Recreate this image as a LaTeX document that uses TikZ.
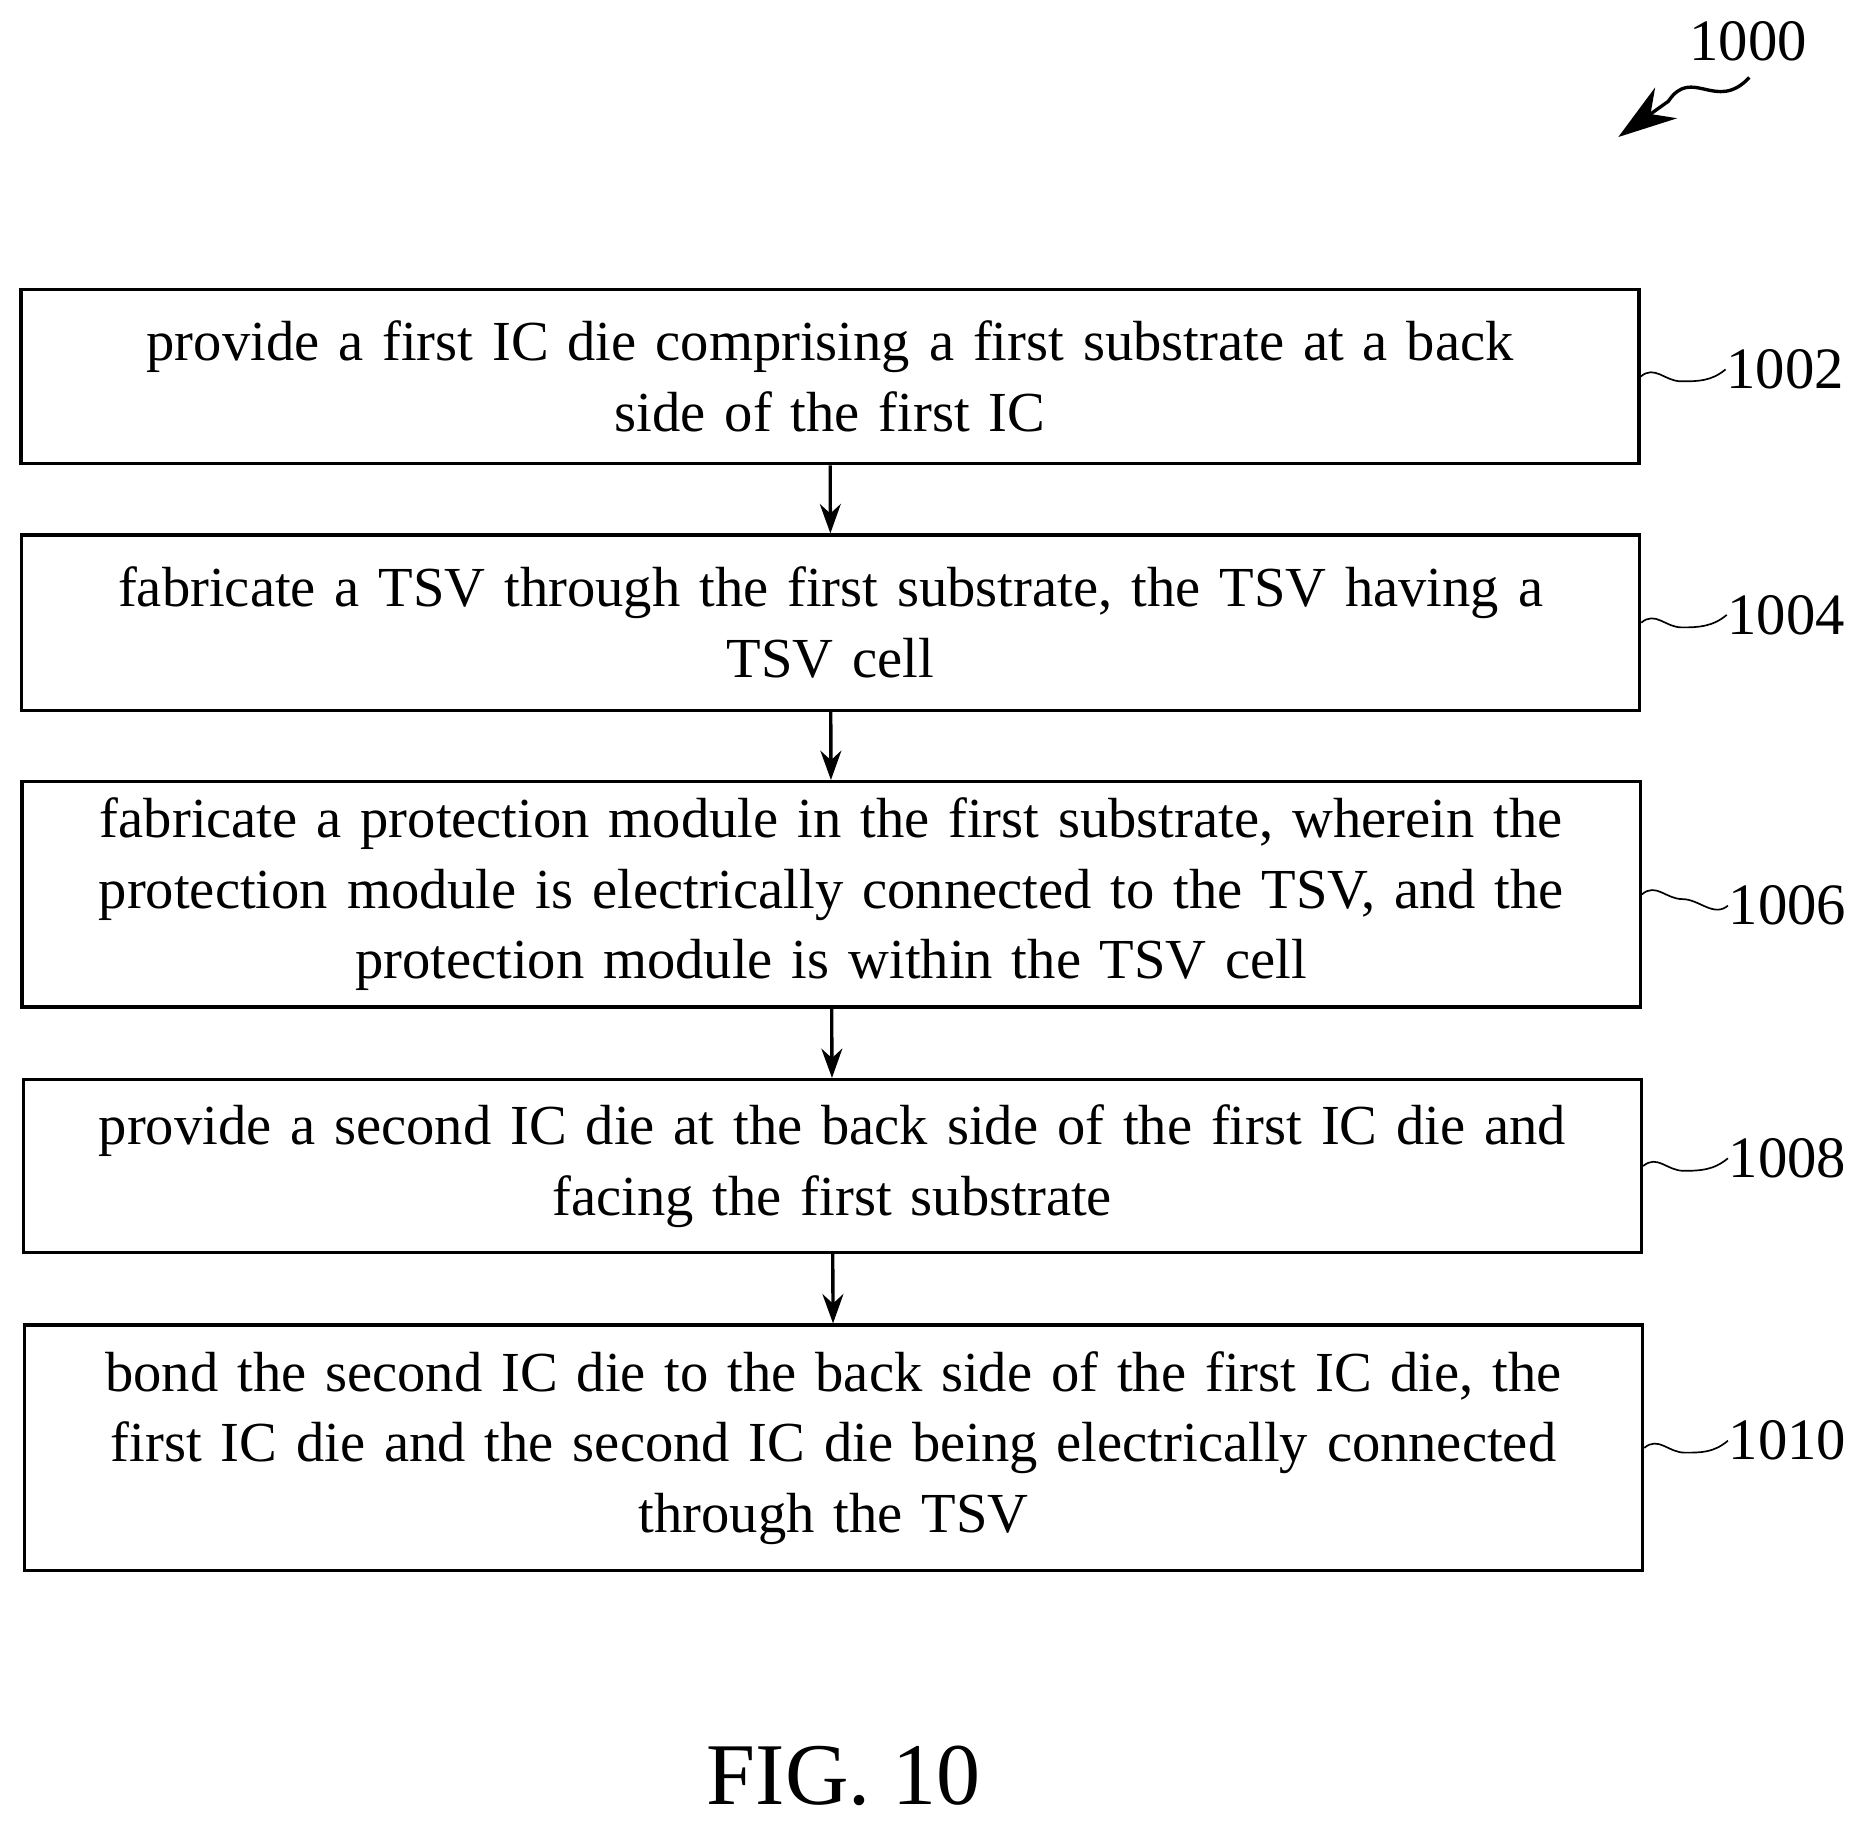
\documentclass[tikz,border=0pt]{standalone}
\usepackage{fontspec}
\setmainfont{Liberation Serif}
\usetikzlibrary{arrows.meta, positioning}
\tikzset{>=stealth}
\tikzset{
  stepbox/.style={draw, thick, minimum width=13.57cm, text width=13.5cm, align=center,
    font=\fontsize{13.5}{16.8}\selectfont, inner sep=0pt},
  tag/.style={font=\fontsize{14}{16}\selectfont, anchor=west, inner sep=0pt},
  flow/.style={->, >={Stealth[length=7pt,width=5pt]}, thick}
}
\newcommand{\squig}[2]{% wavy leader from box edge to label
  \draw (#1) .. controls ++(12,-10) and ++(-14,0) .. ++(34,4)
    .. controls ++(14,0) and ++(-12,10) .. (#2);}
\begin{document}
\begin{tikzpicture}[x=0.01cm, y=-0.01cm]
  \useasboundingbox (0,0) rectangle (1560,1528);
  \node[stepbox, minimum height=1.46cm] (s1) at (696.5,316) {provide a first IC die comprising a first substrate at a back\\ side of the first IC};
  \node[stepbox, minimum height=1.47cm] (s2) at (697,522.5) {fabricate a TSV through the first substrate, the TSV having a\\ TSV cell};
  \node[stepbox, minimum height=1.89cm] (s3) at (697.5,750.5) {fabricate a protection module in the first substrate, wherein the\\ protection module is electrically connected to the TSV, and the\\ protection module is within the TSV cell};
  \node[stepbox, minimum height=1.45cm] (s4) at (698.5,978.5) {provide a second IC die at the back side of the first IC die and\\ facing the first substrate};
  \node[stepbox, minimum height=2.06cm] (s5) at (699.5,1215) {bond the second IC die to the back side of the first IC die, the\\ first IC die and the second IC die being electrically connected\\ through the TSV};
  \draw[flow] (s1) -- (s2);
  \draw[flow] (s2) -- (s3);
  \draw[flow] (s3) -- (s4);
  \draw[flow] (s4) -- (s5);
  % step labels
  \node[tag] (t1) at (1448,310) {1002};
  \node[tag] (t2) at (1449,516) {1004};
  \node[tag] (t3) at (1450,760) {1006};
  \node[tag] (t4) at (1450,972) {1008};
  \node[tag] (t5) at (1450,1209) {1010};
  \squig{s1.east}{t1.west}
  \squig{s2.east}{t2.west}
  \squig{s3.east}{t3.west}
  \squig{s4.east}{t4.west}
  \squig{s5.east}{t5.west}
  % figure number
  \node[font=\fontsize{14}{16}\selectfont] (ref) at (1467,35) {1000};
  \coordinate (tip) at (1358,115);
  \draw[->, >={Stealth[length=14pt,width=9pt]}, thick] (1468,65) .. controls (1440,95) and (1420,55) .. (1400,85) -- (tip);
  \node[font=\fontsize{21}{24}\selectfont] (fig) at (708,1490) {FIG. 10};
\end{tikzpicture}
\end{document}
